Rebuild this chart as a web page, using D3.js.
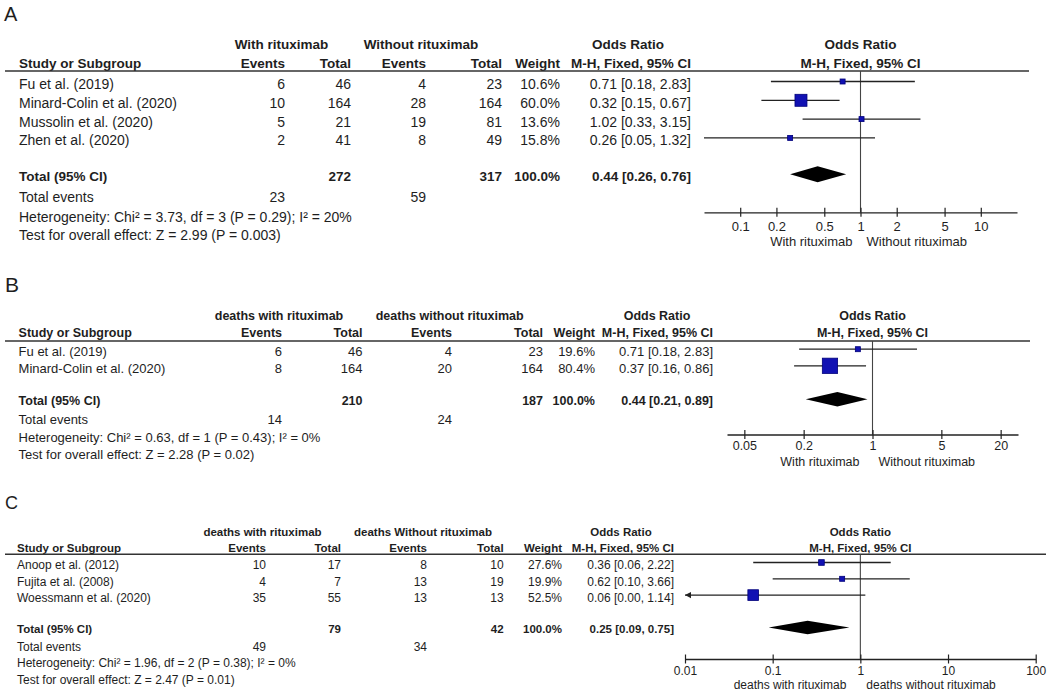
<!DOCTYPE html>
<html>
<head>
<meta charset="utf-8">
<title>rituximab forest plots</title>
<script src="https://cdn.jsdelivr.net/npm/d3@7"></script>
<style>
  body { margin: 0; background: #fff; }
  svg text { font-family: "Liberation Sans", Arial, sans-serif; fill: #1e1e1e; }
</style>
</head>
<body>
<div id="chartArea"></div>
<script>

// ---------- panel A : with vs without rituximab ----------
const studiesA = ["Fu et al. (2019)", "Minard-Colin et al. (2020)", "Mussolin et al. (2020)", "Zhen et al. (2020)"];
const evWithA = [6, 10, 5, 2];
const nWithA = [46, 164, 21, 41];
const evWithoutA = [4, 28, 19, 8];
const nWithoutA = [23, 164, 81, 49];
const weightA = [10.6, 60.0, 13.6, 15.8];
const orA = [0.71, 0.32, 1.02, 0.26];
const loA = [0.18, 0.15, 0.33, 0.05];
const hiA = [2.83, 0.67, 3.15, 1.32];
const pooledA = [0.44, 0.26, 0.76];   // OR, lower, upper
const totalsA = [272, 317];
const totalEventsA = [23, 59];
const hetA = "Heterogeneity: Chi\u00b2 = 3.73, df = 3 (P = 0.29); I\u00b2 = 20%";
const testA = "Test for overall effect: Z = 2.99 (P = 0.003)";
const groupsA = ["With rituximab", "Without rituximab"];
const favoursA = ["With rituximab", "Without rituximab"];
const ticksA = [0.1, 0.2, 0.5, 1, 2, 5, 10];

// ---------- panel B : deaths ----------
const studiesB = ["Fu et al. (2019)", "Minard-Colin et al. (2020)"];
const evWithB = [6, 8];
const nWithB = [46, 164];
const evWithoutB = [4, 20];
const nWithoutB = [23, 164];
const weightB = [19.6, 80.4];
const orB = [0.71, 0.37];
const loB = [0.18, 0.16];
const hiB = [2.83, 0.86];
const pooledB = [0.44, 0.21, 0.89];
const totalsB = [210, 187];
const totalEventsB = [14, 24];
const hetB = "Heterogeneity: Chi\u00b2 = 0.63, df = 1 (P = 0.43); I\u00b2 = 0%";
const testB = "Test for overall effect: Z = 2.28 (P = 0.02)";
const groupsB = ["deaths with rituximab", "deaths without rituximab"];
const favoursB = ["With rituximab", "Without rituximab"];
const ticksB = [0.05, 0.2, 1, 5, 20];

// ---------- panel C : deaths, other studies ----------
const studiesC = ["Anoop et al. (2012)", "Fujita et al. (2008)", "Woessmann et al. (2020)"];
const evWithC = [10, 4, 35];
const nWithC = [17, 7, 55];
const evWithoutC = [8, 13, 13];
const nWithoutC = [10, 19, 13];
const weightC = [27.6, 19.9, 52.5];
const orC = [0.36, 0.62, 0.06];
const loC = [0.06, 0.10, 0.00];
const hiC = [2.22, 3.66, 1.14];
const pooledC = [0.25, 0.09, 0.75];
const totalsC = [79, 42];
const totalEventsC = [49, 34];
const hetC = "Heterogeneity: Chi\u00b2 = 1.96, df = 2 (P = 0.38); I\u00b2 = 0%";
const testC = "Test for overall effect: Z = 2.47 (P = 0.01)";
const groupsC = ["deaths with rituximab", "deaths Without rituximab"];
const favoursC = ["deaths with rituximab", "deaths without rituximab"];
const ticksC = [0.01, 0.1, 1, 10, 100];

//_______________________________________________________________________________

const svg = d3.select("#chartArea").append("svg")
  .attr("width", 1049)
  .attr("height", 700)
  .style("display", "block");

const ink = "#1e1e1e";
const boxBlue = "#1111b3";

// ci text like RevMan does it: 0.71 [0.18, 2.83]
const ciText = (o, l, h) => `${o.toFixed(2)} [${l.toFixed(2)}, ${h.toFixed(2)}]`;

function drawPanel(d, p) {
  const g = svg.append("g");
  const c = p.cols;
  // baseline from a visual centre line
  const bl = (y, size) => y + size * 0.36;

  function txt(x, y, s, size, anchor, bold) {
    return g.append("text")
      .attr("x", x).attr("y", bl(y, size))
      .attr("text-anchor", anchor || "start")
      .style("font-size", size + "px")
      .style("font-weight", bold ? "bold" : "normal")
      .text(s);
  }

  // panel letter
  g.append("text").attr("x", p.letterX).attr("y", p.letterY)
    .style("font-size", p.letterSize + "px").text(p.letter);

  const x = d3.scaleLog().domain(p.domain).range(p.range);
  const plotMid = (p.range[0] + p.range[1]) / 2;

  // header rows
  txt(p.groupX[0], p.groupY, d.groups[0], p.bold, "middle", true);
  txt(p.groupX[1], p.groupY, d.groups[1], p.bold, "middle", true);
  txt(c.orMid, p.groupY, "Odds Ratio", p.bold, "middle", true);
  txt(plotMid, p.groupY, "Odds Ratio", p.bold, "middle", true);

  txt(c.study, p.headY, "Study or Subgroup", p.bold, "start", true);
  txt(c.ev1, p.headY, "Events", p.bold, "end", true);
  txt(c.n1, p.headY, "Total", p.bold, "end", true);
  txt(c.ev2, p.headY, "Events", p.bold, "end", true);
  txt(c.n2, p.headY, "Total", p.bold, "end", true);
  txt(c.wt, p.headY, "Weight", p.bold, "end", true);
  txt(c.ci, p.headY, "M-H, Fixed, 95% CI", p.bold, "end", true);
  txt(plotMid, p.headY, "M-H, Fixed, 95% CI", p.bold, "middle", true);

  g.append("line")
    .attr("x1", 5).attr("x2", p.lineEnd)
    .attr("y1", p.lineY).attr("y2", p.lineY)
    .attr("stroke", "#333").attr("stroke-width", 1.6);

  // study rows
  const y = d3.scaleLinear().domain([0, 1]).range([p.rowTop, p.rowTop + p.rowStep]);

  d.studies.forEach((s, i) => {
    const yy = y(i);
    txt(c.study, yy, s, p.font);
    txt(c.ev1, yy, d.evWith[i], p.font, "end");
    txt(c.n1, yy, d.nWith[i], p.font, "end");
    txt(c.ev2, yy, d.evWithout[i], p.font, "end");
    txt(c.n2, yy, d.nWithout[i], p.font, "end");
    txt(c.wt, yy, d.weight[i].toFixed(1) + "%", p.font, "end");
    txt(c.ci, yy, ciText(d.or[i], d.lo[i], d.hi[i]), p.font, "end");
  });

  // total rows
  txt(c.study, p.totalY, "Total (95% CI)", p.bold, "start", true);
  txt(c.n1, p.totalY, d.totals[0], p.bold, "end", true);
  txt(c.n2, p.totalY, d.totals[1], p.bold, "end", true);
  txt(c.wt, p.totalY, "100.0%", p.bold, "end", true);
  txt(c.ci, p.totalY, ciText(d.pooled[0], d.pooled[1], d.pooled[2]), p.bold, "end", true);

  txt(c.study, p.eventsY, "Total events", p.font);
  txt(c.ev1, p.eventsY, d.totalEvents[0], p.font, "end");
  txt(c.ev2, p.eventsY, d.totalEvents[1], p.font, "end");
  txt(c.study, p.hetY, d.het, p.font);
  txt(c.study, p.testY, d.test, p.font);

  //------- the forest part -------

  // line of no effect
  g.append("line")
    .attr("x1", x(1)).attr("x2", x(1))
    .attr("y1", p.lineY).attr("y2", p.axisY)
    .attr("stroke", "#444").attr("stroke-width", 1.1);

  const lo0 = p.domain[0], hi0 = p.domain[1];
  d.studies.forEach((s, i) => {
    const ym = y(i) - 2.5;
    const l = Math.max(d.lo[i], lo0), h = Math.min(d.hi[i], hi0);
    g.append("line")
      .attr("x1", x(l)).attr("x2", x(h))
      .attr("y1", ym).attr("y2", ym)
      .attr("stroke", "#222").attr("stroke-width", 1.3);
    // ci runs off the scale -> arrow
    if (d.lo[i] < lo0) {
      g.append("path")
        .attr("d", `M${x(lo0)},${ym} l6,-3.2 l0,6.4 z`)
        .attr("fill", "#222");
    }
    const sz = Math.max(5, d.weight[i] * p.boxK);
    g.append("rect")
      .attr("x", x(d.or[i]) - sz / 2).attr("y", ym - sz / 2)
      .attr("width", sz).attr("height", sz)
      .attr("fill", boxBlue).attr("stroke", "#00007a").attr("stroke-width", 0.8);
  });

  // pooled diamond
  const yd = p.totalY - 1.5;
  g.append("polygon")
    .attr("points", [
      [x(d.pooled[1]), yd], [x(d.pooled[0]), yd - p.diamondH],
      [x(d.pooled[2]), yd], [x(d.pooled[0]), yd + p.diamondH]
    ].map(q => q.join(",")).join(" "))
    .attr("fill", "#000");

  // axis, ticks cross the line
  const ax = g.append("g")
    .attr("transform", `translate(0,${p.axisY})`)
    .call(d3.axisBottom(x).tickValues(d.ticks).tickFormat(t => String(t))
      .tickSizeOuter(0).tickSizeInner(4));
  ax.select(".domain").attr("stroke", "#222").attr("stroke-width", 1.3);
  ax.selectAll(".tick line").attr("y1", -4.5).attr("y2", 4.5).attr("stroke", "#222").attr("stroke-width", 1.2);
  ax.selectAll(".tick text")
    .attr("dy", null)
    .attr("y", bl(p.tickY - p.axisY, p.axisFont))
    .style("font-size", p.axisFont + "px");

  // favours labels
  txt(x(1) - p.dirGap[0], p.dirY, d.favours[0], p.axisFont, "end");
  txt(x(1) + p.dirGap[1], p.dirY, d.favours[1], p.axisFont, "start");
}

drawPanel(
  { studies: studiesA, evWith: evWithA, nWith: nWithA, evWithout: evWithoutA, nWithout: nWithoutA,
    weight: weightA, or: orA, lo: loA, hi: hiA, pooled: pooledA, totals: totalsA,
    totalEvents: totalEventsA, het: hetA, test: testA, groups: groupsA, favours: favoursA, ticks: ticksA },
  { letter: "A", letterX: 4, letterY: 21, letterSize: 20, font: 14, bold: 13.5, axisFont: 13,
    groupY: 44, headY: 63, lineY: 71, lineEnd: 1029,
    rowTop: 84, rowStep: 18.8, totalY: 175.7, eventsY: 196.7, hetY: 216.7, testY: 235.3,
    cols: { study: 19, ev1: 285, n1: 351, ev2: 426, n2: 502, wt: 560, ci: 691, orMid: 628 },
    groupX: [281.5, 421],
    range: [704, 1017], domain: [0.05, 20], axisY: 212.3, tickY: 226.7, dirY: 241,
    dirGap: [8, 6], boxK: 0.2, diamondH: 8 }
);

drawPanel(
  { studies: studiesB, evWith: evWithB, nWith: nWithB, evWithout: evWithoutB, nWithout: nWithoutB,
    weight: weightB, or: orB, lo: loB, hi: hiB, pooled: pooledB, totals: totalsB,
    totalEvents: totalEventsB, het: hetB, test: testB, groups: groupsB, favours: favoursB, ticks: ticksB },
  { letter: "B", letterX: 5, letterY: 291.7, letterSize: 21, font: 13, bold: 12.5, axisFont: 12.5,
    groupY: 315, headY: 332, lineY: 341, lineEnd: 1030,
    rowTop: 351.7, rowStep: 16.6, totalY: 400.7, eventsY: 419, hetY: 437, testY: 454,
    cols: { study: 18.6, ev1: 282, n1: 362.5, ev2: 452, n2: 543, wt: 595, ci: 713, orMid: 657 },
    groupX: [279, 449.7],
    range: [727, 1018], domain: [1 / 30, 30], axisY: 434.5, tickY: 445.5, dirY: 461,
    dirGap: [13, 6], boxK: 0.19, diamondH: 7.3 }
);

drawPanel(
  { studies: studiesC, evWith: evWithC, nWith: nWithC, evWithout: evWithoutC, nWithout: nWithoutC,
    weight: weightC, or: orC, lo: loC, hi: hiC, pooled: pooledC, totals: totalsC,
    totalEvents: totalEventsC, het: hetC, test: testC, groups: groupsC, favours: favoursC, ticks: ticksC },
  { letter: "C", letterX: 5, letterY: 509.3, letterSize: 18, font: 12, bold: 11.5, axisFont: 12,
    groupY: 532, headY: 548, lineY: 554.3, lineEnd: 1046,
    rowTop: 565, rowStep: 16.3, totalY: 629, eventsY: 646.7, hetY: 662.3, testY: 680,
    cols: { study: 17, ev1: 266, n1: 341, ev2: 427, n2: 503.6, wt: 562, ci: 674, orMid: 621 },
    groupX: [262.5, 423],
    range: [685, 1035.7], domain: [0.01, 100], axisY: 659, tickY: 671, dirY: 685,
    dirGap: [14, 6], boxK: 0.204, diamondH: 6.7 }
);

</script>
</body>
</html>
